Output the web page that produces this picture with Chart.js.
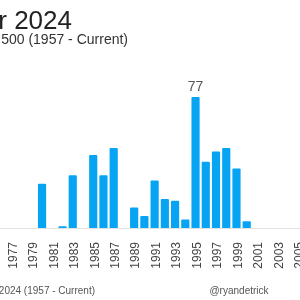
<!DOCTYPE html>
<html lang="en">
<head>
  <meta charset="UTF-8">
  <title>All-Time Highs Per Year</title>
  <script src="https://cdn.jsdelivr.net/npm/chart.js"></script>
  <style>
    html, body { margin: 0; padding: 0; background: #fff; overflow: hidden; }
    #wrap { position: absolute; left: -80px; top: 0; width: 383px; height: 300px; }
  </style>
</head>
<body>
  <div id="wrap"><canvas id="myChart"></canvas></div>
  <script>
    // years visible in the picture
    const years = [1976, 1977, 1978, 1979, 1980, 1981, 1982, 1983, 1984, 1985,
                   1986, 1987, 1988, 1989, 1990, 1991, 1992, 1993, 1994, 1995,
                   1996, 1997, 1998, 1999, 2000, 2001, 2002, 2003, 2004, 2005];
    // number of all-time highs per year
    const highs = [0, 0, 0, 0, 26, 0, 1, 31, 0, 43,
                   31, 47, 0, 12, 7, 28, 17, 16, 5, 77,
                   39, 45, 47, 35, 4, 0, 0, 0, 0, 0];

    const titleText = 'S&P 500 All-Time Highs Per Year 2024';
    const subtitleText = 'S&P 500 (1957 - Current)';
    const sourceText = 'Source: Carson Investment Research 5/10/2024 (1957 - Current)';
    const handleText = '@ryandetrick';

    const font = '"Liberation Sans", Arial, sans-serif';
    const offset = 80; // canvas sits 80px left of the window

    // titles, footer and the label on the top bar
    const textPlugin = {
      id: 'texts',
      afterDraw(chart) {
        const ctx = chart.ctx;
        ctx.save();
        ctx.textBaseline = 'alphabetic';

        ctx.fillStyle = '#222';
        ctx.font = '26px ' + font;
        ctx.textAlign = 'right';
        ctx.fillText(titleText, 72 + offset, 29);

        ctx.fillStyle = '#333';
        ctx.font = '14px ' + font;
        ctx.fillText(subtitleText, 128 + offset, 44);

        ctx.fillStyle = '#555';
        ctx.font = '10px ' + font;
        ctx.fillText(sourceText, 95 + offset, 294);
        ctx.textAlign = 'center';
        ctx.fillText(handleText, 239 + offset, 294);

        // value label on the tallest bar
        const max = Math.max(...highs);
        const i = highs.indexOf(max);
        const bar = chart.getDatasetMeta(0).data[i];
        ctx.fillStyle = '#555';
        ctx.font = '14px ' + font;
        ctx.textBaseline = 'bottom';
        ctx.fillText(String(max), bar.x, bar.y - 3);
        ctx.restore();
      }
    };

    const ctx = document.getElementById('myChart').getContext('2d');
    const myChart = new Chart(ctx, {
      type: 'bar',
      data: {
        labels: years,
        datasets: [{
          data: highs,
          backgroundColor: '#08a4f4',
          borderRadius: 1,
          barPercentage: 0.8,
          categoryPercentage: 1.0
        }]
      },
      options: {
        responsive: true,
        maintainAspectRatio: false,
        animation: false,
        layout: {
          padding: { left: 76, right: 0, top: 92, bottom: 30 }
        },
        plugins: {
          legend: { display: false },
          tooltip: { enabled: false }
        },
        scales: {
          x: {
            grid: { display: false },
            border: { display: true, color: '#e2e2e2', width: 1 },
            afterFit: s => {
              s.height = 42;
              s.paddingLeft = 0;
              s.paddingRight = 0;
            },
            ticks: {
              autoSkip: false,
              minRotation: 90,
              maxRotation: 90,
              padding: 6,
              labelOffset: 2,
              color: '#444',
              font: { family: font, size: 12 },
              callback: (v, i) => years[i] % 2 ? String(years[i]) : ''
            }
          },
          y: {
            display: false,
            min: 0,
            max: 80
          }
        }
      },
      plugins: [textPlugin]
    });
  </script>
</body>
</html>
